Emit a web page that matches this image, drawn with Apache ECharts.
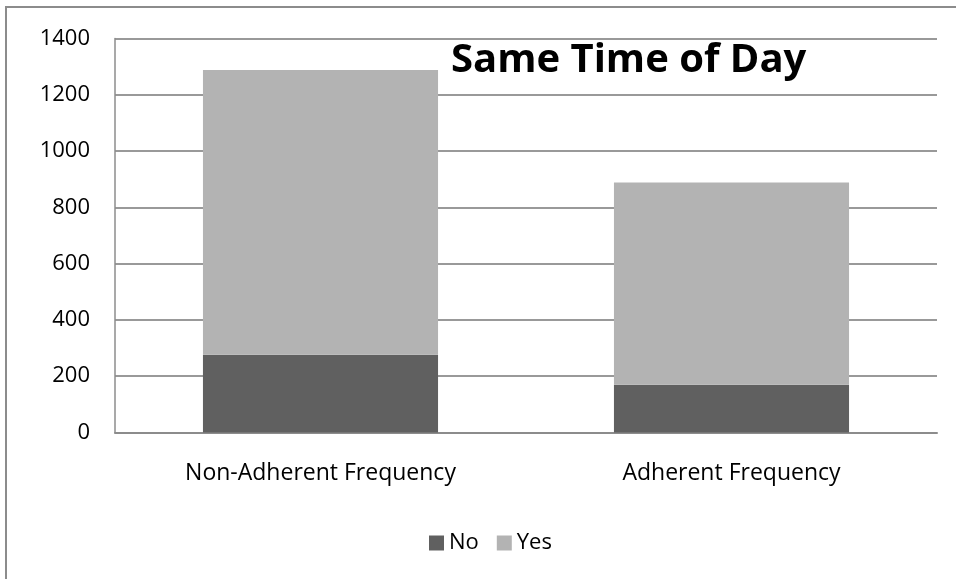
<!DOCTYPE html>
<html>
<head>
<meta charset="utf-8">
<script src="https://cdn.jsdelivr.net/npm/echarts@6/dist/echarts.min.js"></script>
<style>
  html, body { margin: 0; padding: 0; background: #fff; }
  #chart { width: 956px; height: 579px; }
</style>
</head>
<body>
<div id="chart"></div>
<script>
// Stacked counts per adherence group
const categories = ['Non-Adherent Frequency', 'Adherent Frequency'];
const noValues = [276, 170];
const yesValues = [1012, 718];
const yTicks = { min: 0, max: 1400, interval: 200 };

const FONT = '"Open Sans", sans-serif';
const chart = echarts.init(document.getElementById('chart'), null, { renderer: 'canvas' });

chart.setOption({
  animation: false,
  backgroundColor: '#ffffff',
  title: {
    text: 'Same Time of Day',
    left: 446,
    top: 36,
    textStyle: { fontFamily: FONT, fontWeight: 'bold', fontSize: 40, color: '#000' }
  },
  graphic: [{
    type: 'rect',
    shape: { x: 6, y: 7, width: 1000, height: 1000 },
    style: { fill: 'none', stroke: '#8c8c8c', lineWidth: 2 },
    silent: true
  }],
  legend: {
    data: ['No', 'Yes'],
    bottom: 20,
    left: 424,
    itemWidth: 15,
    itemHeight: 15,
    itemGap: 18,
    icon: 'rect',
    textStyle: { fontFamily: FONT, fontSize: 22, color: '#000' }
  },
  grid: { left: 115, right: 19, top: 38.5, bottom: 146.5 },
  xAxis: {
    type: 'category',
    data: categories,
    axisLine: { lineStyle: { color: '#8c8c8c', width: 2 } },
    axisTick: { show: false },
    axisLabel: { fontFamily: FONT, fontSize: 23, color: '#000', margin: 29 }
  },
  yAxis: {
    type: 'value',
    min: yTicks.min,
    max: yTicks.max,
    interval: yTicks.interval,
    axisLine: { show: true, lineStyle: { color: '#8c8c8c', width: 1.5 } },
    axisTick: { show: false },
    splitLine: { lineStyle: { color: '#999999', width: 2 } },
    axisLabel: {
      fontFamily: FONT, fontSize: 22, color: '#000', margin: 25,
      formatter: (v) => String(v)
    }
  },
  series: [
    {
      name: 'No',
      type: 'bar',
      stack: 'total',
      data: noValues,
      barWidth: '57.2%',
      itemStyle: { color: '#606060' }
    },
    {
      name: 'Yes',
      type: 'bar',
      stack: 'total',
      data: yesValues,
      barWidth: '57.2%',
      itemStyle: { color: '#b3b3b3' }
    }
  ]
});
</script>
</body>
</html>
